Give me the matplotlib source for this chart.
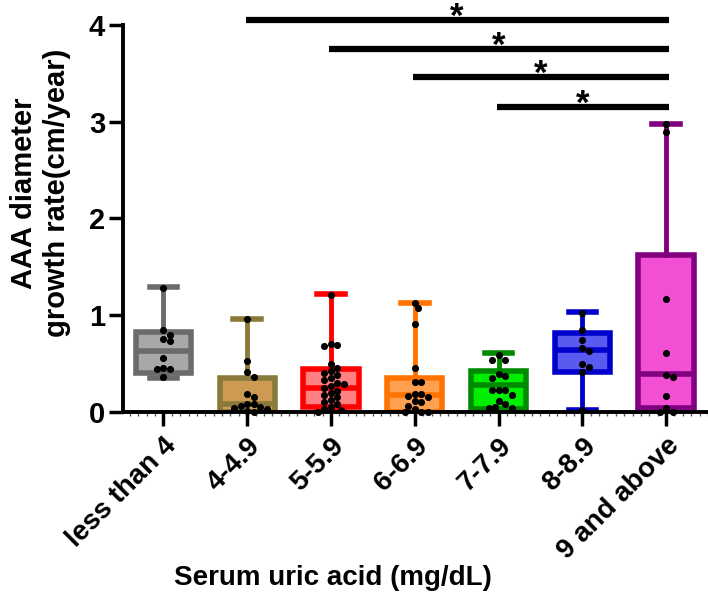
import numpy as np
import matplotlib
matplotlib.use("Agg")
import matplotlib.pyplot as plt
from matplotlib.ticker import MultipleLocator

plt.rcParams['font.family'] = ['Liberation Sans', 'DejaVu Sans']
plt.rcParams['font.weight'] = 'bold'

categories = ["less than 4", "4-4.9", "5-5.9", "6-6.9", "7-7.9", "8-8.9", "9 and above"]

# box statistics
whislo = [0.35, 0.0, 0.0, 0.0, 0.0, 0.02, 0.0]
q1 = [0.40, 0.0, 0.05, 0.0, 0.03, 0.41, 0.04]
med = [0.63, 0.08, 0.25, 0.18, 0.28, 0.64, 0.39]
q3 = [0.83, 0.35, 0.44, 0.35, 0.42, 0.82, 1.62]
whishi = [1.29, 0.96, 1.22, 1.13, 0.61, 1.03, 2.98]

points = [
    [1.28, 0.85, 0.80, 0.75, 0.73, 0.56, 0.45, 0.44, 0.44, 0.36],
    [0.96, 0.53, 0.41, 0.36, 0.19, 0.15, 0.08, 0.08, 0.06, 0.05, 0.04, 0.03, 0.01, 0.0],
    [1.21, 0.70, 0.69, 0.68, 0.50, 0.45, 0.42, 0.40, 0.38, 0.35, 0.33, 0.30, 0.29,
     0.27, 0.25, 0.22, 0.20, 0.18, 0.15, 0.12, 0.10, 0.08, 0.05, 0.03, 0.02, 0.0],
    [1.13, 1.07, 0.91, 0.45, 0.31, 0.31, 0.19, 0.19, 0.17, 0.16, 0.11, 0.10, 0.06,
     0.03, 0.0, 0.0, 0.0],
    [0.59, 0.54, 0.54, 0.39, 0.37, 0.35, 0.23, 0.23, 0.23, 0.18, 0.11, 0.08, 0.05,
     0.04, 0.04],
    [1.02, 0.85, 0.74, 0.66, 0.63, 0.50, 0.46, 0.41, 0.02],
    [2.98, 2.89, 1.17, 0.61, 0.38, 0.36, 0.17, 0.04, 0.0, 0.0],
]

edge_colors = ["#6b6b6b", "#8a7a3a", "#ff0000", "#ff7400", "#008a00", "#0000cc", "#800080"]
fill_colors = ["#a8a8a8", "#cc9a52", "#ff8080", "#ffa050", "#00ee00", "#5a5af0", "#f24fd4"]

# significance comparisons
sig_from = [2, 3, 4, 5]
sig_to = [7, 7, 7, 7]
sig_y = [4.05, 3.75, 3.46, 3.15]
sig_text = ["*", "*", "*", "*"]

fig = plt.figure(figsize=(7.08, 6.05), dpi=100)
ax = fig.add_axes([0.174, 0.319, 0.826, 0.64])

positions = np.arange(1, len(categories) + 1)
stats = []
for i in range(len(categories)):
    stats.append(dict(whislo=whislo[i], q1=q1[i], med=med[i], q3=q3[i], whishi=whishi[i], fliers=[]))

for i, st in enumerate(stats):
    ax.bxp([st], positions=[positions[i]], widths=0.66, patch_artist=True, showfliers=False,
           boxprops=dict(facecolor=fill_colors[i], edgecolor=edge_colors[i], linewidth=4.0),
           medianprops=dict(color=edge_colors[i], linewidth=4.0),
           whiskerprops=dict(color=edge_colors[i], linewidth=3.5),
           capprops=dict(color=edge_colors[i], linewidth=4.0),
           capwidths=0.33, zorder=2)

# simple beeswarm placement in pixel-like units
ppu_x = 83.6
ppu_y = 96.7
dot_d = 6.5
for i, vals in enumerate(points):
    placed = []
    xs = []
    for v in sorted(vals, reverse=True):
        yp = v * ppu_y
        cand = [0.0]
        k = 1
        while len(cand) < 40:
            cand += [k * 0.5 * dot_d, -k * 0.5 * dot_d]
            k += 1
        for c in cand:
            ok = True
            for (px, py) in placed:
                if (px - c) ** 2 + (py - yp) ** 2 < dot_d ** 2 * 0.95:
                    ok = False
                    break
            if ok:
                placed.append((c, yp))
                xs.append((positions[i] + c / ppu_x, v))
                break
    xs = np.array(xs)
    ax.scatter(xs[:, 0], xs[:, 1], s=26, color="black", zorder=4, clip_on=False, linewidths=0)

for a, b, y, t in zip(sig_from, sig_to, sig_y, sig_text):
    ax.plot([a - 0.02, b + 0.04], [y, y], color="black", lw=4.5, clip_on=False, solid_capstyle='butt')
    ax.text((a + b) / 2, y - 0.07, t, ha="center", va="baseline", fontsize=25, fontweight="bold")

ax.set_xlim(0.52, 7.5)
ax.set_ylim(0, 4)
ax.set_yticks([0, 1, 2, 3, 4])
ax.set_xticks(positions)
ax.set_xticklabels(categories, rotation=45, ha="right", rotation_mode="anchor", fontsize=20, fontweight="bold")
ax.tick_params(axis='y', labelsize=21, width=2.5, length=10, pad=3)
ax.tick_params(axis='x', width=2.5, length=10, pad=5)
ax.xaxis.set_minor_locator(MultipleLocator(0.1))
ax.tick_params(axis='x', which='minor', length=3, width=1, color="#555555")
for lab in ax.get_yticklabels():
    lab.set_fontweight("bold")

ax.spines['top'].set_visible(False)
ax.spines['right'].set_visible(False)
ax.spines['left'].set_linewidth(2.8)
ax.spines['bottom'].set_linewidth(2.8)

ax.set_ylabel("AAA diameter\ngrowth rate(cm/year)", fontsize=21, fontweight="bold", linespacing=1.2)
ax.yaxis.set_label_coords(-0.09, 0.565)
fig.text(333 / 708, 1 - 578 / 605, "Serum uric acid (mg/dL)", ha="center", va="center",
         fontsize=20, fontweight="bold")

fig.savefig("out.png", dpi=100)
